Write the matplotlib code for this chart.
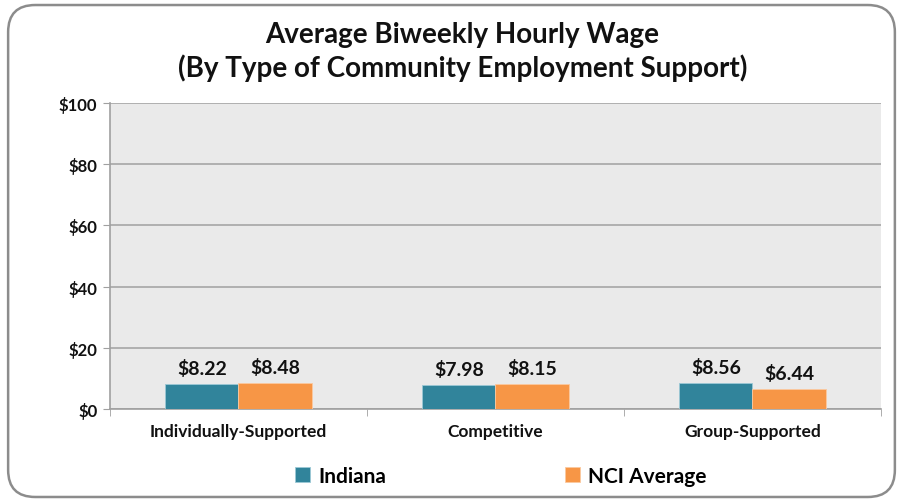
import matplotlib.pyplot as plt
import numpy as np
from matplotlib.patches import FancyBboxPatch
from matplotlib.ticker import FuncFormatter

plt.rcParams['font.family'] = ['Lato', 'DejaVu Sans']

categories = ['Individually-Supported', 'Competitive', 'Group-Supported']
indiana = [8.22, 7.98, 8.56]
nci_avg = [8.48, 8.15, 6.44]
series_names = ['Indiana', 'NCI Average']
colors = ['#31849B', '#F79646']

fig = plt.figure(figsize=(9.03, 5.02), dpi=100, facecolor='white')

# rounded frame around the whole chart
frame = FancyBboxPatch((0.009, 0.008), 0.982, 0.98, boxstyle='round,pad=0,rounding_size=0.03',
                       transform=fig.transFigure, facecolor='none', edgecolor='#8C8C8C',
                       linewidth=1.8, mutation_aspect=903 / 502, zorder=5)
fig.patches.append(frame)

ax = fig.add_axes([0.1218, 0.1833, 0.8538, 0.6095])
ax.set_facecolor('#EAEAEA')

x = np.arange(len(categories))
w = 0.285
b1 = ax.bar(x - w / 2, indiana, w, color=colors[0], edgecolor='#9CC9D6', linewidth=0.6,
            label=series_names[0], zorder=3)
b2 = ax.bar(x + w / 2, nci_avg, w, color=colors[1], edgecolor='#FBC9A0', linewidth=0.6,
            label=series_names[1], zorder=3)

for bars in (b1, b2):
    for r in bars:
        ax.annotate(f'${r.get_height():.2f}', (r.get_x() + r.get_width() / 2, r.get_height()),
                    xytext=(0, 5), textcoords='offset points', ha='center', va='bottom',
                    fontsize=14, fontweight='bold', color='#111111')

ax.set_xlim(-0.5, 2.5)
ax.set_ylim(0, 100)
ax.set_yticks(range(0, 101, 20))
ax.yaxis.set_major_formatter(FuncFormatter(lambda v, p: f'${v:.0f}'))
ax.set_xticks(x)
ax.set_xticklabels(categories)
ax.set_xticks([-0.5, 0.5, 1.5, 2.5], minor=True)
ax.tick_params(axis='x', which='major', length=0, pad=10, labelsize=12.5)
ax.tick_params(axis='x', which='minor', length=5, color='#A0A0A0')
ax.tick_params(axis='y', length=5, color='#A0A0A0', labelsize=12, pad=4)
for lbl in ax.get_xticklabels() + ax.get_yticklabels():
    lbl.set_fontweight('bold')
    lbl.set_color('#111111')

ax.grid(axis='y', color='#A6A6A6', linewidth=1.2, zorder=0)
for s in ('top', 'right'):
    ax.spines[s].set_visible(False)
ax.spines['left'].set_color('#A0A0A0')
ax.spines['bottom'].set_color('#A0A0A0')
ax.spines['left'].set_linewidth(1.2)
ax.spines['bottom'].set_linewidth(1.2)

fig.text(0.512, 0.93, 'Average Biweekly Hourly Wage', ha='center', va='center',
         fontsize=20, fontweight='bold', color='#111111')
fig.text(0.512, 0.865, '(By Type of Community Employment Support)', ha='center', va='center',
         fontsize=20, fontweight='bold', color='#111111')

leg = fig.legend(handles=[b1, b2], loc='center', bbox_to_anchor=(0.555, 0.05), ncol=2,
                 frameon=False, prop={'weight': 'bold', 'size': 15}, handlelength=0.7,
                 handleheight=0.7, handletextpad=0.4, columnspacing=8.6)

fig.savefig('out.png', dpi=100)
